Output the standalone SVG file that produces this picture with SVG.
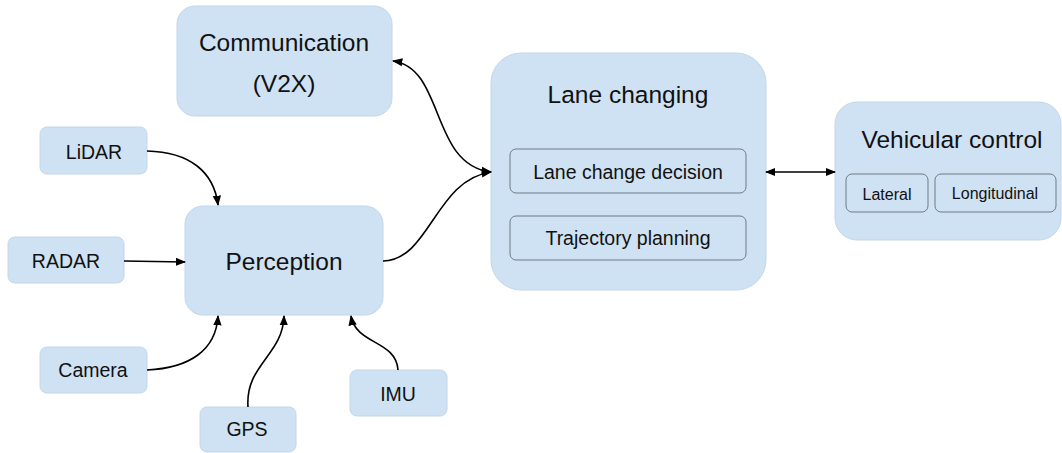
<svg xmlns="http://www.w3.org/2000/svg" width="1062" height="453" viewBox="0 0 1062 453">
<style>
.box{fill:#cfe2f3;stroke:#c3d6e8;stroke-width:1}
.inner{fill:#cfe2f3;stroke:#6f7a84;stroke-width:1}
.t{font-family:"Liberation Sans",Arial,sans-serif;fill:#111;text-anchor:middle;dominant-baseline:central}
.big{font-size:24.5px}
.mid{font-size:19.5px}
.sm{font-size:16px}
.c{fill:none;stroke:#000;stroke-width:1.6}
</style>
<defs>
<marker id="ah" viewBox="0 0 10 10" refX="9" refY="5" markerWidth="6.5" markerHeight="6.5" markerUnits="strokeWidth" orient="auto-start-reverse">
<path d="M0,1 L10,5 L0,9 z" fill="#000"/>
</marker>
</defs>
<rect width="1062" height="453" fill="#fff"/>
<g id="communication">
<rect class="box" x="177" y="6" width="215" height="110" rx="18"/>
<text class="t big" x="284" y="42">Communication</text>
<text class="t big" x="284" y="83">(V2X)</text>
</g>
<g id="lane-changing">
<rect class="box" x="491" y="53" width="275" height="237" rx="30"/>
<text class="t big" x="628" y="94">Lane changing</text>
<rect class="inner" x="510" y="149" width="236" height="44" rx="6"/>
<text class="t mid" x="628" y="172">Lane change decision</text>
<rect class="inner" x="510" y="216" width="236" height="44" rx="6"/>
<text class="t mid" x="628" y="238">Trajectory planning</text>
</g>
<g id="vehicular-control">
<rect class="box" x="835" y="102" width="226" height="138" rx="22"/>
<text class="t big" x="952" y="139">Vehicular control</text>
<rect class="inner" x="846" y="174" width="82" height="38" rx="6"/>
<text class="t sm" x="887" y="194">Lateral</text>
<rect class="inner" x="935" y="174" width="121" height="38" rx="6"/>
<text class="t sm" x="995" y="193">Longitudinal</text>
</g>
<g id="lidar">
<rect class="box" x="40" y="127" width="107" height="47" rx="7"/>
<text class="t mid" x="94" y="152">LiDAR</text>
</g>
<g id="radar">
<rect class="box" x="8" y="237" width="116" height="46" rx="7"/>
<text class="t mid" x="66" y="261">RADAR</text>
</g>
<g id="perception">
<rect class="box" x="185" y="206" width="198" height="109" rx="18"/>
<text class="t big" x="284" y="261">Perception</text>
</g>
<g id="camera">
<rect class="box" x="40" y="347" width="107" height="46" rx="7"/>
<text class="t mid" x="93" y="370">Camera</text>
</g>
<g id="gps">
<rect class="box" x="200" y="407" width="96" height="45" rx="7"/>
<text class="t mid" x="247" y="429">GPS</text>
</g>
<g id="imu">
<rect class="box" x="350" y="370" width="97" height="46" rx="7"/>
<text class="t mid" x="398" y="394">IMU</text>
</g>
<g id="connectors">
<path class="c" d="M147,151 C190,152 214,172 218,205" marker-end="url(#ah)"/>
<path class="c" d="M124,261 L185,262" marker-end="url(#ah)"/>
<path class="c" d="M147,370 C190,368 216,350 218,316" marker-end="url(#ah)"/>
<path class="c" d="M248,407 C245,365 283,355 284,316" marker-end="url(#ah)"/>
<path class="c" d="M398,370 C396,340 356,345 351,316" marker-end="url(#ah)"/>
<path class="c" d="M383,261 C430,260 435,180 491,172" marker-end="url(#ah)"/>
<path class="c" d="M393,61 C445,68 430,165 491,172" marker-start="url(#ah)" marker-end="url(#ah)"/>
<path class="c" d="M766,172 L835,172" marker-start="url(#ah)" marker-end="url(#ah)"/>
</g>
</svg>
